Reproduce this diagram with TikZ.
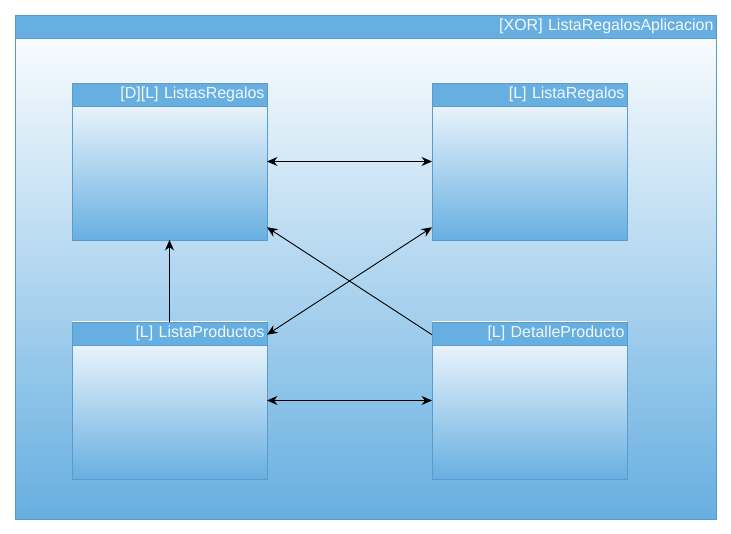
\documentclass[tikz,border=0pt]{standalone}
\usepackage{fontspec}
\setmainfont{Liberation Sans}
\usepackage{xcolor}
\usepackage{tikz}
\usetikzlibrary{positioning,arrows.meta}
\definecolor{PaneBlue}{HTML}{67AFE1}
\definecolor{PaneEdge}{HTML}{5A9BCF}
\definecolor{PaneText}{HTML}{F2F8FD}

\begin{document}
\begin{tikzpicture}[x=1pt, y=-1pt, >={Stealth[length=10.5pt,width=9pt,inset=3.5pt]},
                      pane/.style={draw=PaneEdge, line width=0.8pt, inner sep=0pt, outer sep=0pt,
                                   top color=white, bottom color=PaneBlue,
                                   minimum width=195pt, minimum height=157pt},
                      panehead/.style={draw=PaneEdge, line width=0.8pt, fill=PaneBlue, outer sep=0pt,
                                       inner xsep=2.5pt, inner ysep=0pt, minimum height=23pt,
                                       text width=#1, align=right, text=PaneText,
                                       font=\fontsize{16}{18}\selectfont, anchor=north},
                      panehead/.default=190pt,
                      link/.style={draw=black, line width=0.9pt}]
  \useasboundingbox (0,0) rectangle (731,534);
  \node[pane, anchor=north west, minimum width=701pt, minimum height=504pt] (app) at (15,15) {};
  \node[panehead=696pt] (appHead) at (app.north) {[XOR] ListaRegalosAplicacion};
  \node[pane, anchor=north west] (listas) at (72,83) {};
  \node[pane, right=165pt of listas] (regalos) {};
  \node[pane, below=82pt of listas] (productos) {};
  \node[pane, right=165pt of productos] (detalle) {};
  \node[panehead] (listasHead) at (listas.north) {[D][L] ListasRegalos};
  \node[panehead] (regalosHead) at (regalos.north) {[L] ListaRegalos};
  \node[panehead] (productosHead) at (productos.north) {[L] ListaProductos};
  \node[panehead] (detalleHead) at (detalle.north) {[L] DetalleProducto};
  \draw[link, <->] (listas.east) -- (regalos.west);
  \draw[link, <->] (productos.east) -- (detalle.west);
  \draw[link, ->] (productos.north) -- (listas.south);
  \draw[link, ->] (detalle.146) -- (listas.-34);
  \draw[link, <->] (productos.34) -- (regalos.-146);
\end{tikzpicture}
\end{document}
